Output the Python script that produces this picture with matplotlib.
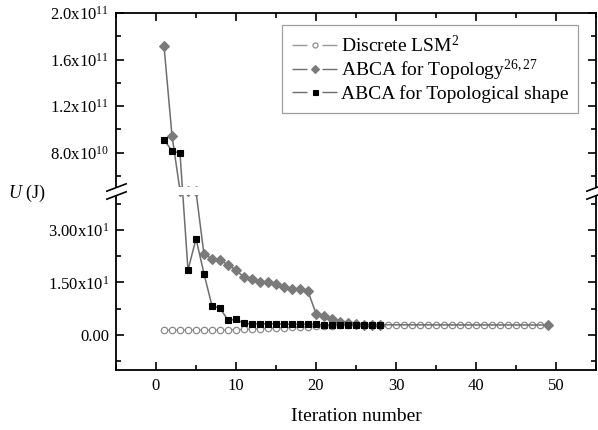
import numpy as np
import matplotlib
matplotlib.use("Agg")
import matplotlib.pyplot as plt
from matplotlib.lines import Line2D
from matplotlib.legend_handler import HandlerTuple
from matplotlib.transforms import blended_transform_factory

plt.rcParams['font.family'] = ['Liberation Serif', 'DejaVu Serif']
plt.rcParams['mathtext.fontset'] = 'custom'
plt.rcParams['mathtext.rm'] = 'Liberation Serif'
plt.rcParams['mathtext.it'] = 'Liberation Serif:italic'
plt.rcParams['lines.scale_dashes'] = False

# ---- data ----
lsm_iter = list(range(1, 49))
lsm_u = [1.4] * 9 + [1.5, 1.6, 1.7, 1.8, 1.9, 2.0, 2.1, 2.2, 2.3, 2.4, 2.5, 2.6, 2.7, 2.8] + [2.85] * 25

# points 3-5 sit inside the axis break (hidden), values estimated
topo_iter = list(range(1, 29)) + [49]
topo_u = [1.717e11, 9.46e10, 2.8e10, 2.5e10, 2.2e10, 23.0, 21.8, 21.3, 20.1, 18.5,
          16.5, 15.9, 15.2, 15.0, 14.5, 13.6, 13.2, 13.0, 12.5, 6.1,
          5.3, 4.6, 3.8, 3.3, 3.0, 2.9, 2.9, 2.9, 2.85]

shape_iter = list(range(1, 29))
shape_u = [9.09e10, 8.17e10, 7.95e10, 18.5, 27.5, 17.5, 8.3, 7.7, 4.2, 4.5,
           3.3, 3.2, 3.2, 3.2, 3.2, 3.1, 3.1, 3.1, 3.1, 3.1,
           2.9, 2.9, 2.9, 2.9, 2.9, 2.9, 2.9, 2.9]

labels = ['Discrete LSM$^2$', 'ABCA for Topology$^{26,27}$', 'ABCA for Topological shape']

y_major = [0, 15, 30, 8e10, 1.2e11, 1.6e11, 2.0e11]
y_major_labels = ['0.00', '1.50x10$^1$', '3.00x10$^1$', '8.0x10$^{10}$',
                  '1.2x10$^{11}$', '1.6x10$^{11}$', '2.0x10$^{11}$']
y_minor = [-7.5, 7.5, 22.5, 37.5, 6e10, 1.0e11, 1.4e11, 1.8e11]

# ---- broken y axis as one piecewise linear scale ----
Y_MIN = -10.0
LOW_TOP = 40.0
HIGH_BOT = 5.06e10
Y_MAX = 2.0e11
K_LOW = 3.51
GAP = 8.0
K_HIGH = 1.1675e-9
T_LOW = (LOW_TOP - Y_MIN) * K_LOW


def fwd(y):
    y = np.asarray(y, dtype=float)
    t_low = (y - Y_MIN) * K_LOW
    t_gap = T_LOW + (y - LOW_TOP) / (HIGH_BOT - LOW_TOP) * GAP
    t_high = T_LOW + GAP + (y - HIGH_BOT) * K_HIGH
    return np.where(y <= LOW_TOP, t_low, np.where(y < HIGH_BOT, t_gap, t_high))


def inv(t):
    t = np.asarray(t, dtype=float)
    y_low = t / K_LOW + Y_MIN
    y_gap = LOW_TOP + (t - T_LOW) / GAP * (HIGH_BOT - LOW_TOP)
    y_high = HIGH_BOT + (t - T_LOW - GAP) / K_HIGH
    return np.where(t <= T_LOW, y_low, np.where(t < T_LOW + GAP, y_gap, y_high))


fig = plt.figure(figsize=(5.98, 4.30), dpi=100)
ax = fig.add_axes([116 / 598, 60 / 430, 480 / 598, 357 / 430])
ax.set_yscale('function', functions=(fwd, inv))

line_col = '#6e6e6e'
styles = [
    dict(color='#9a9a9a', marker='o', mfc='white', mec='#8c8c8c', mew=0.9),
    dict(color=line_col, marker='D', mfc='#7a7a7a', mec='#7a7a7a', mew=0.8),
    dict(color=line_col, marker='s', mfc='black', mec='black', mew=0.8),
]
ax.plot(lsm_iter, lsm_u, lw=1.0, ms=4.6, zorder=2, **styles[0])
ax.plot(topo_iter, topo_u, lw=1.1, ms=4.6, zorder=3, **styles[1])
ax.plot(shape_iter, shape_u, lw=1.1, ms=4.4, zorder=4, **styles[2])

ax.set_xlim(-5, 55)
ax.set_ylim(Y_MIN, Y_MAX)
ax.set_xticks(range(0, 51, 10))
ax.set_xticks(range(-5, 56, 10), minor=True)
ax.set_yticks(y_major)
ax.set_yticklabels(y_major_labels)
ax.set_yticks(y_minor, minor=True)

for s in ax.spines.values():
    s.set_linewidth(1.3)
ax.tick_params(which='both', direction='in', top=True, right=True, width=1.2)
ax.tick_params(which='major', length=6, labelsize=12, pad=6)
ax.tick_params(which='minor', length=3.5)
ax.tick_params(axis='y', which='major', pad=5)

# gap of the break, covering lines and spines
ax.axhspan(LOW_TOP, HIGH_BOT, xmin=-0.02, xmax=1.02, color='white',
           zorder=6, clip_on=False, lw=0)
trans = blended_transform_factory(ax.transAxes, ax.transData)
slash = [(-1, -0.38), (1, 0.38)]
ax.plot([0, 0, 1, 1], [LOW_TOP, HIGH_BOT, LOW_TOP, HIGH_BOT], transform=trans,
        ls='none', marker=slash, ms=15, mec='black', mew=1.2, clip_on=False, zorder=7)

ax.set_xlabel('Iteration number', fontsize=14, labelpad=10)
fig.text(8 / 598, 1 - 193 / 430, '$U$ (J)', fontsize=13, va='center', ha='left')

# legend handles: line broken around the marker
handles = []
for st in styles:
    ln = Line2D([], [], color=st['color'], lw=1.0, ls=(0, (10.8, 10.8)))
    mk = Line2D([], [], ls='none', ms=3.6, **{k: v for k, v in st.items() if k != 'color'})
    handles.append((ln, mk))
leg = ax.legend(handles, labels, handler_map={tuple: HandlerTuple(ndivide=1)},
                loc='upper right', bbox_to_anchor=(0.9625, 0.966), borderaxespad=0,
                fontsize=14, frameon=True, fancybox=False, handlelength=2.3,
                handletextpad=0.2, labelspacing=0.1, borderpad=0.5)
leg.get_frame().set_edgecolor('#888888')
leg.get_frame().set_linewidth(0.9)

fig.savefig('out.png', dpi=100)
